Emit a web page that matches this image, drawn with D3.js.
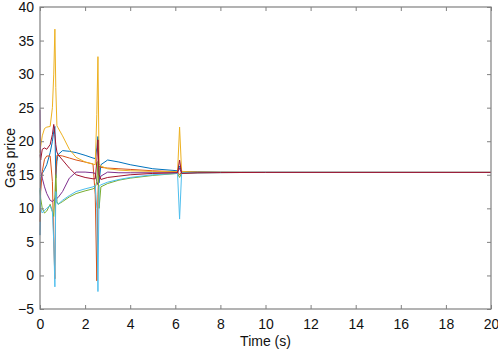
<!DOCTYPE html>
<html><head><meta charset="utf-8">
<script src="https://cdn.jsdelivr.net/npm/d3@7"></script>
<style>body{margin:0;background:#fff;} svg{display:block;} text{font-family:"Liberation Sans",Arial,sans-serif;}</style>
</head><body><svg id="c" width="498" height="352"></svg>
<script>
const time = [0,0.03,0.1,0.2,0.3,0.45,0.55,0.61,0.66,0.7,0.75,0.8,1.0,1.3,1.6,2.0,2.35,2.45,2.52,2.57,2.62,2.7,3.0,3.5,4.0,5.0,6.1,6.19,6.28,7.0,8.0,10.0,20.0];
const blue   = [6,14.5,15.2,15.8,16.5,18.3,20,21.5,22.2,14.5,17,18,18.6,18.5,18.3,17.9,17.5,17.4,19,20.7,13.8,16.5,17.2,16.9,16.5,15.9,15.6,16.3,15.5,15.45,15.4,15.37,15.35];
const orange = [8,12.5,15.5,17.3,17.8,17.8,14,5,-0.5,15,17.9,17.9,17.8,17.5,17.2,16.9,16.6,12,-0.8,12,16.3,16.1,16.0,15.9,15.8,15.6,15.45,15.0,15.4,15.38,15.36,15.35,15.35];
const yellow = [18.3,19.2,20.8,21.9,22.1,22.2,25,30,36.7,28,22.3,22.0,20.8,18.8,17.6,16.9,16.6,16.5,24,32.6,16.6,16.3,15.9,15.7,15.6,15.5,15.45,22.1,15.5,15.4,15.37,15.35,15.35];
const purple = [24.7,15.5,14.5,13.2,12.2,11.2,11,11.2,11.5,11.5,11.5,11.6,12.5,14.5,15.4,15.4,15.3,15.2,14,13.5,14.2,14.8,15.4,15.3,15.3,15.3,15.3,16,15.2,15.3,15.33,15.35,15.35];
const green  = [12.7,11.5,10,9.3,9.6,10.6,9.5,8.8,12,15,11,10.6,11,11.7,12.2,12.6,12.9,13.1,14,17,10,13.2,13.7,14.2,14.5,14.9,15.2,14.6,15.3,15.3,15.33,15.35,15.35];
const cyan   = [13,10,9.3,9.7,10,10.4,9.5,5,-1.7,12.5,10.8,10.6,11.2,11.9,12.5,12.9,13.2,13.4,10,-2.4,13.3,13.5,13.9,14.3,14.6,15.0,15.2,8.4,15.3,15.3,15.33,15.35,15.35];
const darkred= [18,17.2,18.8,19,18.8,19.5,21,22.5,21,19.5,18.4,18.0,17.2,16,15,14.6,14.4,14.4,17,20.2,15,14.3,14.6,14.8,15.0,15.2,15.3,17.2,15.2,15.3,15.33,15.35,15.35];
const seriesList = [blue, orange, yellow, purple, green, cyan, darkred];
const colors = ["#0072BD","#D95319","#EDB120","#7E2F8E","#77AC30","#4DBEEE","#A2142F"];
const xTicks = [0,2,4,6,8,10,12,14,16,18,20];
const yTicks = [-5,0,5,10,15,20,25,30,35,40];

const L=40, R=491, T=7, B=309;
const svg = d3.select("#c");
const x = d3.scaleLinear().domain([0,20]).range([L,R]);
const y = d3.scaleLinear().domain([-5,40]).range([B,T]);

const g = svg.append("g");
const line = d3.line().x((d,i)=>x(time[i])).y(d=>y(d));
seriesList.forEach((s,k)=>{
  g.append("path").attr("d", line(s)).attr("fill","none")
   .attr("stroke", colors[k]).attr("stroke-width",1).attr("stroke-linejoin","round");
});

const axisColor = "#808080";
function style(sel){
  sel.select(".domain").remove();
  sel.selectAll(".tick line").attr("stroke", axisColor);
  sel.selectAll(".tick text").attr("fill","#111").style("font-size","14px")
     .style("font-family","'Liberation Sans',Arial,sans-serif");
}
svg.append("g").attr("transform",`translate(0,${B})`)
  .call(d3.axisBottom(x).tickValues(xTicks).tickSizeInner(-4).tickSizeOuter(0).tickPadding(10).tickFormat(d3.format("d")))
  .call(style);
svg.append("g").attr("transform",`translate(0,${T})`)
  .call(d3.axisTop(x).tickValues(xTicks).tickSizeInner(-4).tickSizeOuter(0).tickFormat(""))
  .call(style);
svg.append("g").attr("transform",`translate(${L},0)`)
  .call(d3.axisLeft(y).tickValues(yTicks).tickSizeInner(-4).tickSizeOuter(0).tickPadding(6).tickFormat(d3.format("d")))
  .call(style);
svg.append("g").attr("transform",`translate(${R},0)`)
  .call(d3.axisRight(y).tickValues(yTicks).tickSizeInner(-4).tickSizeOuter(0).tickFormat(""))
  .call(style);

svg.append("rect").attr("x",L).attr("y",T).attr("width",R-L).attr("height",B-T)
  .attr("fill","none").attr("stroke",axisColor).attr("stroke-width",1.2);

svg.append("text").attr("x",(L+R)/2).attr("y",346).attr("text-anchor","middle")
  .style("font-size","14px").attr("fill","#111").text("Time (s)");
svg.append("text").attr("transform",`translate(15,${(T+B)/2}) rotate(-90)`).attr("text-anchor","middle")
  .style("font-size","14px").attr("fill","#111").text("Gas price");
</script></body></html>
